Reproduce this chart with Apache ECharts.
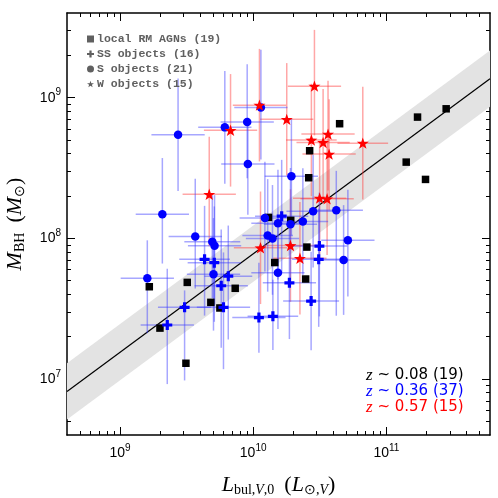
<!DOCTYPE html>
<html>
<head>
<meta charset="utf-8">
<script src="https://cdn.jsdelivr.net/npm/echarts@6/dist/echarts.min.js"></script>
<style>
  html, body { margin: 0; padding: 0; background: #fff; }
  #chart { width: 498px; height: 498px; }
</style>
</head>
<body>
<div id="chart"></div>
<script>
// all values are log10 (L in L_sun, M in M_sun)

// local RM AGNs (black squares)
const rmLogL = [9.220, 9.505, 9.865, 9.682, 9.750, 9.300, 9.495, 10.115, 10.162, 10.282, 10.403, 10.394, 10.417, 10.424, 10.649, 11.234, 11.449, 11.149, 11.294]
const rmLogM = [7.656, 7.687, 7.645, 7.545, 7.505, 7.362, 7.112, 8.149, 7.828, 8.128, 7.938, 7.711, 8.431, 8.623, 8.815, 8.862, 8.921, 8.542, 8.419]

// SS objects (blue plus)
const ssLogL = [9.635, 9.708, 9.813, 9.760, 9.485, 9.777, 9.355, 10.043, 10.148, 10.214, 10.497, 10.492, 10.272, 10.435]
const ssLogM = [7.851, 7.827, 7.731, 7.663, 7.510, 7.510, 7.384, 7.437, 7.446, 8.158, 7.945, 7.851, 7.684, 7.554]
const ssErrL = [0.19, 0.20, 0.18, 0.20, 0.20, 0.20, 0.20, 0.20, 0.19, 0.20, 0.21, 0.20, 0.20, 0.21]
const ssErrMup = [0.38, 0.40, 0.36, 0.40, 0.12, 0.39, 0.40, 0.39, 0.26, 0.40, 0.38, 0.36, 0.40, 0.35]
const ssErrMdn = [0.40, 0.42, 0.45, 0.44, 0.52, 0.44, 0.42, 0.25, 0.24, 0.40, 0.50, 0.48, 0.40, 0.35]

// S objects (blue circles)
const sLogL = [9.436, 9.787, 9.955, 10.058, 9.960, 9.318, 9.565, 9.693, 9.710, 9.702, 9.205, 10.088, 10.186, 10.109, 10.145, 10.186, 10.287, 10.624, 10.450, 10.373, 10.280, 10.711, 10.679]
const sLogM = [8.736, 8.789, 8.827, 8.930, 8.528, 8.171, 8.014, 7.976, 7.947, 7.744, 7.716, 8.144, 8.107, 8.021, 7.999, 7.755, 8.441, 8.200, 8.192, 8.119, 8.100, 7.986, 7.846]
const sErrL = [0.20, 0.20, 0.20, 0.20, 0.20, 0.20, 0.20, 0.21, 0.20, 0.20, 0.20, 0.19, 0.20, 0.19, 0.20, 0.20, 0.20, 0.20, 0.20, 0.19, 0.20, 0.20, 0.20]
const sErrMup = [0.40, 0.40, 0.41, 0.41, 0.33, 0.40, 0.41, 0.33, 0.36, 0.40, 0.27, 0.40, 0.38, 0.40, 0.38, 0.40, 0.41, 0.28, 0.40, 0.38, 0.40, 0.36, 0.39]
const sErrMdn = [0.40, 0.40, 0.40, 0.37, 0.36, 0.35, 0.37, 0.40, 0.42, 0.40, 0.39, 0.38, 0.40, 0.40, 0.40, 0.40, 0.42, 0.75, 0.40, 0.38, 0.40, 0.40, 0.39]

// W objects (red stars)
const wLogL = [9.670, 9.830, 10.047, 10.252, 10.460, 10.562, 10.437, 10.525, 10.823, 10.570, 10.499, 10.555, 10.055, 10.280, 10.351]
const wLogM = [8.313, 8.768, 8.947, 8.846, 9.082, 8.741, 8.699, 8.682, 8.677, 8.599, 8.286, 8.281, 7.933, 7.949, 7.858]
const wErrL = [0.20, 0.20, 0.20, 0.20, 0.20, 0.20, 0.19, 0.20, 0.19, 0.20, 0.20, 0.20, 0.20, 0.20, 0.20]
const wErrMup = [0.41, 0.40, 0.40, 0.40, 0.40, 0.38, 0.40, 0.38, 0.40, 0.39, 0.40, 0.40, 0.40, 0.40, 0.40]
const wErrMdn = [0.37, 0.40, 0.40, 0.40, 0.35, 0.40, 0.40, 0.40, 0.40, 0.40, 0.40, 0.40, 0.40, 0.40, 0.40]

// fit: logM = fitA + fitB * (logL - 10), grey band = +/- fitScatter
const fitA = 7.89
const fitB = 0.70
const fitScatter = 0.20

const legendNames = ['local RM AGNs (19)', 'SS objects (16)', 'S objects (21)', 'W objects (15)']
const zValues = ['0.08', '0.36', '0.57']
const zCounts = [19, 37, 15]
const zColors = ['#000000', '#0000ff', '#ff0000']

const xMajorExp = [9, 10, 11]
const yMajorExp = [7, 8, 9]

const xMin = Math.log10(4e8)
const xMax = Math.log10(6e11)
const yMin = Math.log10(4e6)
const yMax = Math.log10(4e9)

function minorTicks(lo, hi) {
  const out = []
  for (let n = Math.floor(lo); n <= Math.ceil(hi); n++) {
    for (let k = 2; k <= 9; k++) {
      const v = n + Math.log10(k)
      if (v > lo && v < hi) out.push(v)
    }
  }
  return out
}

const starPath = 'path://M10,0L12.35,6.76L19.51,6.91L13.8,11.24L15.88,18.09L10,14L4.12,18.09L6.2,11.24L0.49,6.91L7.65,6.76Z'
const plusPath = 'path://M3.4,0H6.6V3.4H10V6.6H6.6V10H3.4V6.6H0V3.4H3.4Z'

function zip(a, b) {
  return a.map((v, i) => [v, b[i]])
}
function errData(lx, ly, ex, up, dn) {
  return lx.map((v, i) => [v, ly[i], ex[i], up[i], dn[i]])
}

function errRender(color) {
  return function (params, api) {
    const x = api.value(0)
    const y = api.value(1)
    const h0 = api.coord([x - api.value(2), y])
    const h1 = api.coord([x + api.value(2), y])
    const v0 = api.coord([x, y + api.value(3)])
    const v1 = api.coord([x, y - api.value(4)])
    return {
      type: 'group',
      children: [
        { type: 'line', shape: { x1: h0[0], y1: h0[1], x2: h1[0], y2: h1[1] }, style: { stroke: color, lineWidth: 1.5 } },
        { type: 'line', shape: { x1: v0[0], y1: v0[1], x2: v1[0], y2: v1[1] }, style: { stroke: color, lineWidth: 1.5 } }
      ]
    }
  }
}

const supRich = {
  b: { fontFamily: 'Liberation Sans', fontSize: 14, color: '#000' },
  s: { fontFamily: 'Liberation Sans', fontSize: 10, color: '#000', padding: [0, 0, 10, 0] }
}
const nameRich = {
  i: { fontFamily: 'Liberation Serif', fontStyle: 'italic', fontSize: 22, color: '#000' },
  r: { fontFamily: 'Liberation Serif', fontSize: 22, color: '#000' },
  s: { fontFamily: 'Liberation Serif', fontSize: 14, color: '#000', padding: [10, 0, 0, 0] },
  si: { fontFamily: 'Liberation Serif', fontStyle: 'italic', fontSize: 14, color: '#000', padding: [10, 0, 0, 0] }
}

function makeAxis(dir, pos, major, withLabels, withLine) {
  const isX = dir === 'x'
  return {
    type: 'value',
    position: pos,
    min: isX ? xMin : yMin,
    max: isX ? xMax : yMax,
    splitLine: { show: false },
    axisLine: { show: withLine, onZero: false, lineStyle: { color: '#000', width: 1.5 } },
    axisTick: {
      show: true,
      inside: true,
      length: major ? 8 : 4,
      lineStyle: { color: '#000', width: 1 },
      customValues: major ? (isX ? xMajorExp : yMajorExp) : (isX ? minorTicks(xMin, xMax) : minorTicks(yMin, yMax))
    },
    axisLabel: withLabels ? {
      show: true,
      margin: isX ? 8 : 6,
      customValues: isX ? xMajorExp : yMajorExp,
      formatter: v => '{b|10}{s|' + Math.round(v) + '}',
      rich: supRich
    } : { show: false }
  }
}

const xAxes = [
  makeAxis('x', 'bottom', true, true, true),
  makeAxis('x', 'bottom', false, false, false),
  makeAxis('x', 'top', true, false, true),
  makeAxis('x', 'top', false, false, false)
]
xAxes[0].name = '{i|L}{s|bul,}{si|V}{s|,0}   {r|(}{i|L}{s|⊙,}{si|V}{r|)}'
xAxes[0].nameLocation = 'middle'
xAxes[0].nameGap = 38
xAxes[0].nameTextStyle = { rich: nameRich }

const yAxes = [
  makeAxis('y', 'left', true, true, true),
  makeAxis('y', 'left', false, false, false),
  makeAxis('y', 'right', true, false, true),
  makeAxis('y', 'right', false, false, false)
]
yAxes[0].name = '{i|M}{s|BH}   {r|(}{i|M}{s|⊙}{r|)}'
yAxes[0].nameLocation = 'middle'
yAxes[0].nameGap = 40
yAxes[0].nameTextStyle = { rich: nameRich }

const legendColor = '#606060'

const option = {
  animation: false,
  backgroundColor: '#fff',
  grid: { left: 67, right: 8, top: 13, bottom: 63, containLabel: false, outerBoundsMode: 'none' },
  xAxis: xAxes,
  yAxis: yAxes,
  legend: {
    orient: 'vertical',
    left: 82,
    top: 28,
    itemWidth: 7,
    itemHeight: 7,
    itemGap: 3,
    selectedMode: false,
    textStyle: { fontFamily: 'Liberation Mono', fontSize: 11.5, fontWeight: 'bold', color: legendColor, padding: [0, 0, 0, -2] },
    data: [
      { name: legendNames[0], icon: 'rect', itemStyle: { color: legendColor, opacity: 1 } },
      { name: legendNames[1], icon: plusPath, itemStyle: { color: legendColor, opacity: 1 } },
      { name: legendNames[2], icon: 'circle', itemStyle: { color: legendColor, opacity: 1 } },
      { name: legendNames[3], icon: starPath, itemStyle: { color: legendColor, opacity: 1 } }
    ]
  },
  graphic: zValues.map((z, i) => ({
    type: 'text',
    left: 366,
    top: 367 + i * 16,
    z: 100,
    style: {
      text: '{z|z} ~ ' + z + ' (' + zCounts[i] + ')',
      fill: zColors[i],
      fontFamily: 'DejaVu Sans',
      fontSize: 15,
      rich: {
        z: { fontFamily: 'Liberation Serif', fontStyle: 'italic', fontSize: 17, fill: zColors[i] }
      }
    }
  })),
  series: [
    {
      // grey scatter band around the fit
      type: 'custom',
      name: 'band',
      silent: true,
      z: 1,
      data: [[xMin, xMax]],
      renderItem: (params, api) => {
        const x0 = api.value(0)
        const x1 = api.value(1)
        const y0 = fitA + fitB * (x0 - 10)
        const y1 = fitA + fitB * (x1 - 10)
        const pts = [
          api.coord([x0, y0 - fitScatter]),
          api.coord([x1, y1 - fitScatter]),
          api.coord([x1, y1 + fitScatter]),
          api.coord([x0, y0 + fitScatter])
        ]
        return { type: 'polygon', shape: { points: pts }, style: { fill: '#e3e3e3' } }
      }
    },
    {
      type: 'line',
      name: 'fit',
      silent: true,
      z: 2,
      symbol: 'none',
      lineStyle: { color: '#000', width: 1.2 },
      data: [[xMin, fitA + fitB * (xMin - 10)], [xMax, fitA + fitB * (xMax - 10)]]
    },
    {
      type: 'custom', name: 'errW', z: 3, clip: true, silent: true,
      renderItem: errRender('rgba(255,60,60,0.45)'),
      data: errData(wLogL, wLogM, wErrL, wErrMup, wErrMdn)
    },
    {
      type: 'custom', name: 'errS', z: 3, clip: true, silent: true,
      renderItem: errRender('rgba(60,60,255,0.45)'),
      data: errData(sLogL, sLogM, sErrL, sErrMup, sErrMdn)
    },
    {
      type: 'custom', name: 'errSS', z: 3, clip: true, silent: true,
      renderItem: errRender('rgba(60,60,255,0.45)'),
      data: errData(ssLogL, ssLogM, ssErrL, ssErrMup, ssErrMdn)
    },
    {
      type: 'scatter', name: legendNames[0], z: 4,
      symbol: 'rect', symbolSize: 7.5,
      itemStyle: { color: '#000', opacity: 1 },
      data: zip(rmLogL, rmLogM)
    },
    {
      type: 'scatter', name: legendNames[1], z: 5,
      symbol: plusPath, symbolSize: 10,
      itemStyle: { color: '#0000ff', opacity: 1 },
      data: zip(ssLogL, ssLogM)
    },
    {
      type: 'scatter', name: legendNames[2], z: 5,
      symbol: 'circle', symbolSize: 8.5,
      itemStyle: { color: '#0000ff', opacity: 1 },
      data: zip(sLogL, sLogM)
    },
    {
      type: 'scatter', name: legendNames[3], z: 6,
      symbol: starPath, symbolSize: 12, symbolKeepAspect: true,
      itemStyle: { color: '#ff0000', opacity: 1 },
      data: zip(wLogL, wLogM)
    }
  ]
}

const myChart = echarts.init(document.getElementById('chart'))
myChart.setOption(option)
</script>
</body>
</html>
